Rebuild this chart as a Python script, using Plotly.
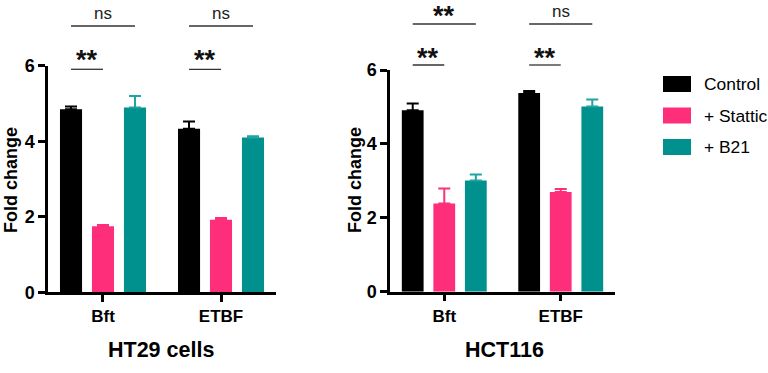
import plotly.graph_objects as go

# ---------------- data ----------------
categories = ["Bft", "ETBF"]
series_names = ["Control", "+ Stattic", "+ B21"]
bar_colors = ["#000000", "#FF2E7B", "#00918F"]
err_colors = ["#000000", "#FF2E7B", "#1FA3A3"]

ht29_control = [4.85, 4.33]
ht29_stattic = [1.75, 1.92]
ht29_b21 = [4.89, 4.10]
ht29_control_err = [0.07, 0.19]
ht29_stattic_err = [0.03, 0.05]
ht29_b21_err = [0.31, 0.03]

hct116_control = [4.91, 5.38]
hct116_stattic = [2.39, 2.70]
hct116_b21 = [3.01, 5.01]
hct116_control_err = [0.18, 0.05]
hct116_stattic_err = [0.40, 0.08]
hct116_b21_err = [0.16, 0.19]

y_ticks = [0, 2, 4, 6]
panel_titles = ["HT29 cells", "HCT116"]
y_title = "Fold change"

# significance comparisons: (category index, compared series index, label)
ht29_sig = [(0, 1, "**"), (0, 2, "ns"), (1, 1, "**"), (1, 2, "ns")]
hct116_sig = [(0, 1, "**"), (0, 2, "**"), (1, 1, "**"), (1, 2, "ns")]

# ---------------- layout constants ----------------
W, H = 768, 373
FONT = "Liberation Sans, Arial, sans-serif"
BARGAP = 0.187
GROUPGAP = 0.31
SLOT = (1 - BARGAP) / 3


def px_x(p):
    return p / W


def px_y(p):
    return (H - p) / H


panels = [
    dict(xa="x", ya="y",
         xdom=[px_x(48), px_x(276)], ydom=[px_y(292.3), px_y(65.7)],
         values=[ht29_control, ht29_stattic, ht29_b21],
         errs=[ht29_control_err, ht29_stattic_err, ht29_b21_err],
         sig=ht29_sig, title=panel_titles[0], title_x=160.5, ytitle_x=11,
         line_y={1: 69.3, 2: 26}, text_y={"**": 60, "ns": 13},
         text_y_long={"**": 16, "ns": 13}),
    dict(xa="x2", ya="y2",
         xdom=[px_x(390), px_x(615)], ydom=[px_y(291.7), px_y(70)],
         values=[hct116_control, hct116_stattic, hct116_b21],
         errs=[hct116_control_err, hct116_stattic_err, hct116_b21_err],
         sig=hct116_sig, title=panel_titles[1], title_x=504.5, ytitle_x=355,
         line_y={1: 65, 2: 24}, text_y={"**": 57.5, "ns": 11},
         text_y_long={"**": 16, "ns": 11}),
]

fig = go.Figure()
shapes = []
annotations = []

for p in panels:
    for s, name in enumerate(series_names):
        fig.add_trace(go.Bar(
            x=categories, y=p["values"][s], name=name,
            xaxis=p["xa"], yaxis=p["ya"], offsetgroup=str(s),
            marker=dict(color=bar_colors[s], line=dict(width=0)),
            error_y=dict(type="data", array=p["errs"][s],
                         arrayminus=[0] * len(categories), symmetric=False,
                         color=err_colors[s], thickness=2, width=6),
            showlegend=False,
        ))
    for ci, sj, label in p["sig"]:
        x0 = ci - SLOT
        x1 = ci - SLOT + sj * SLOT
        ly = p["line_y"][sj]
        shapes.append(dict(type="line", xref=p["xa"], yref="paper",
                           x0=x0, x1=x1, y0=px_y(ly), y1=px_y(ly),
                           line=dict(color="#333333", width=1.3)))
        ty = p["text_y"][label] if sj == 1 else p["text_y_long"][label]
        if label == "ns":
            font = dict(family=FONT, size=17, color="#222222")
        else:
            font = dict(family=FONT, size=27, color="#111111", weight="bold")
        annotations.append(dict(xref=p["xa"], yref="paper", x=(x0 + x1) / 2,
                                y=px_y(ty), text=label, showarrow=False,
                                xanchor="center", yanchor="middle", font=font))
    annotations.append(dict(xref="paper", yref="paper", x=px_x(p["title_x"]),
                            y=px_y(350), text=p["title"], showarrow=False,
                            xanchor="center", yanchor="middle",
                            font=dict(family=FONT, size=21.5, color="black",
                                      weight="bold")))
    annotations.append(dict(xref="paper", yref="paper", x=px_x(p["ytitle_x"]),
                            y=px_y(180), text=y_title, showarrow=False,
                            textangle=-90, xanchor="center", yanchor="middle",
                            font=dict(family=FONT, size=18, color="black",
                                      weight="bold")))

axis_common = dict(showline=True, linecolor="black", linewidth=2.5,
                   ticks="outside", ticklen=7, tickwidth=2.5, tickcolor="black",
                   showgrid=False, zeroline=False, fixedrange=True,
                   automargin=False)

layout_axes = {}
for i, p in enumerate(panels):
    xk = "xaxis" if i == 0 else "xaxis2"
    yk = "yaxis" if i == 0 else "yaxis2"
    layout_axes[xk] = dict(axis_common, domain=p["xdom"], anchor=p["ya"],
                           type="category", range=[-0.466, 1.466],
                           tickfont=dict(family=FONT, size=17, color="black",
                                         weight="bold"))
    layout_axes[yk] = dict(axis_common, domain=p["ydom"], anchor=p["xa"],
                           range=[0, 6], tickvals=y_ticks,
                           tickfont=dict(family=FONT, size=18, color="black",
                                         weight="bold"))

# manual legend
legend_rows = [84, 115.5, 147]
for s, name in enumerate(series_names):
    cy = legend_rows[s]
    shapes.append(dict(type="rect", xref="paper", yref="paper",
                       x0=px_x(663), x1=px_x(691), y0=px_y(cy + 8), y1=px_y(cy - 8),
                       fillcolor=bar_colors[s], line=dict(width=0)))
    annotations.append(dict(xref="paper", yref="paper", x=px_x(702),
                            y=px_y(cy), text=name, showarrow=False,
                            xanchor="left", yanchor="middle",
                            font=dict(family=FONT, size=17.4, color="black")))

fig.update_layout(
    width=W, height=H, margin=dict(l=0, r=0, t=0, b=0, autoexpand=False),
    paper_bgcolor="white", plot_bgcolor="white",
    barmode="group", bargap=BARGAP, bargroupgap=GROUPGAP,
    shapes=shapes, annotations=annotations, showlegend=False,
    **layout_axes,
)

fig.write_html("out.html", config={"displayModeBar": False},
               post_script="document.body.style.margin='0';")
